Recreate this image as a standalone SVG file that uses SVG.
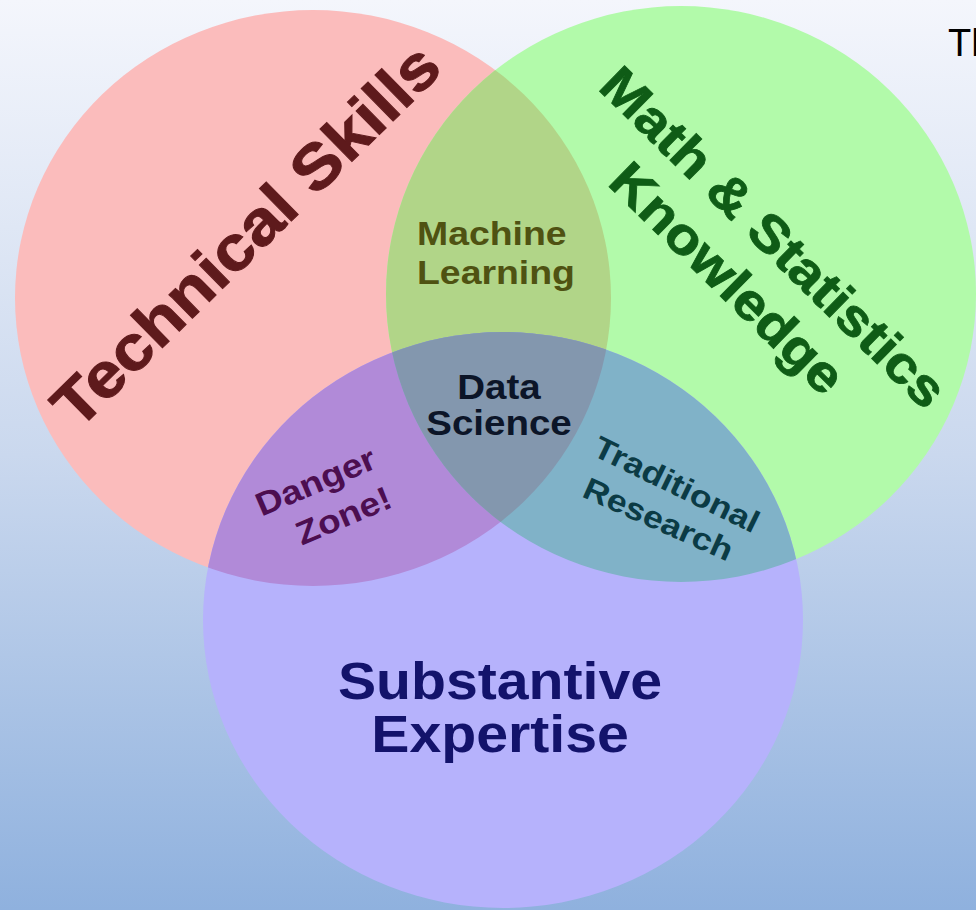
<svg xmlns="http://www.w3.org/2000/svg" width="976" height="910" viewBox="0 0 976 910">
  <defs>
    <linearGradient id="bg" x1="0" y1="0" x2="0" y2="1">
      <stop offset="0" stop-color="#f4f6fc"/>
      <stop offset="0.5" stop-color="#cad8ee"/>
      <stop offset="1" stop-color="#8fb1de"/>
    </linearGradient>
    <clipPath id="clip-tech"><ellipse cx="313" cy="298" rx="298" ry="288"/></clipPath>
    <clipPath id="clip-math"><ellipse cx="681" cy="294" rx="295" ry="288"/></clipPath>
    <clipPath id="clip-domain"><ellipse cx="503" cy="620" rx="300" ry="288"/></clipPath>
  </defs>
  <style>
    .lbl { font-family: "Liberation Sans", Arial, Helvetica, sans-serif; font-weight: bold; text-anchor: middle; }
    .tech { fill: #5e1a1c; stroke: #5e1a1c; stroke-width: 1; font-size: 63px; }
    .math { fill: #0f5c16; stroke: #0f5c16; stroke-width: 0.8; font-size: 52px; }
    .ml { fill: #4f5212; font-size: 34px; text-anchor: start; }
    .ds { fill: #0c1528; font-size: 35px; }
    .dz { fill: #4c0e50; font-size: 33px; }
    .tr { fill: #0b3b45; font-size: 31px; }
    .se { fill: #13136b; font-size: 52px; }
  </style>

  <rect width="976" height="910" fill="url(#bg)"/>

  <!-- the three sets -->
  <g id="technical-skills">
    <ellipse cx="313" cy="298" rx="298" ry="288" fill="#fbbcbc"/>
  </g>
  <g id="math-statistics">
    <ellipse cx="681" cy="294" rx="295" ry="288" fill="#b2faaa"/>
  </g>
  <g id="substantive-expertise">
    <ellipse cx="503" cy="620" rx="300" ry="288" fill="#b6b2fc"/>
  </g>

  <!-- pairwise overlaps -->
  <g id="machine-learning">
    <ellipse cx="681" cy="294" rx="295" ry="288" fill="#b1d588" clip-path="url(#clip-tech)"/>
  </g>
  <g id="danger-zone">
    <ellipse cx="503" cy="620" rx="300" ry="288" fill="#b18ad8" clip-path="url(#clip-tech)"/>
  </g>
  <g id="traditional-research">
    <ellipse cx="503" cy="620" rx="300" ry="288" fill="#80b2c8" clip-path="url(#clip-math)"/>
  </g>

  <!-- centre: all three -->
  <g id="data-science">
    <g clip-path="url(#clip-math)">
      <ellipse cx="503" cy="620" rx="300" ry="288" fill="#8397ae" clip-path="url(#clip-tech)"/>
    </g>
  </g>

  <!-- labels -->
  <g id="labels">
    <text class="lbl tech" transform="translate(261,251) rotate(-44.5) scale(1.1,1)">Technical Skills</text>
    <text class="lbl math" transform="translate(761,250) rotate(44.5) scale(1.1,1)">Math &amp; Statistics</text>
    <text class="lbl math" transform="translate(715,291) rotate(44.5) scale(1.1,1)">Knowledge</text>
    <text class="lbl ml" transform="translate(417,245) scale(1.1,1)">Machine</text>
    <text class="lbl ml" transform="translate(417,284) scale(1.1,1)">Learning</text>
    <text class="lbl ds" transform="translate(499,399) scale(1.1,1)">Data</text>
    <text class="lbl ds" transform="translate(499,435) scale(1.1,1)">Science</text>
    <text class="lbl dz" transform="translate(320,492) rotate(-23) scale(1.12,1)">Danger</text>
    <text class="lbl dz" transform="translate(348,526) rotate(-23) scale(1.12,1)">Zone!</text>
    <text class="lbl tr" transform="translate(672,494) rotate(26) scale(1.15,1)">Traditional</text>
    <text class="lbl tr" transform="translate(654,529) rotate(24) scale(1.15,1)">Research</text>
    <text class="lbl se" transform="translate(500,699) scale(1.1,1)">Substantive</text>
    <text class="lbl se" transform="translate(500,752) scale(1.1,1)">Expertise</text>
  </g>

  <text x="948" y="56" font-family="Liberation Sans, Arial, sans-serif" font-size="38" fill="#000">Th</text>
</svg>
